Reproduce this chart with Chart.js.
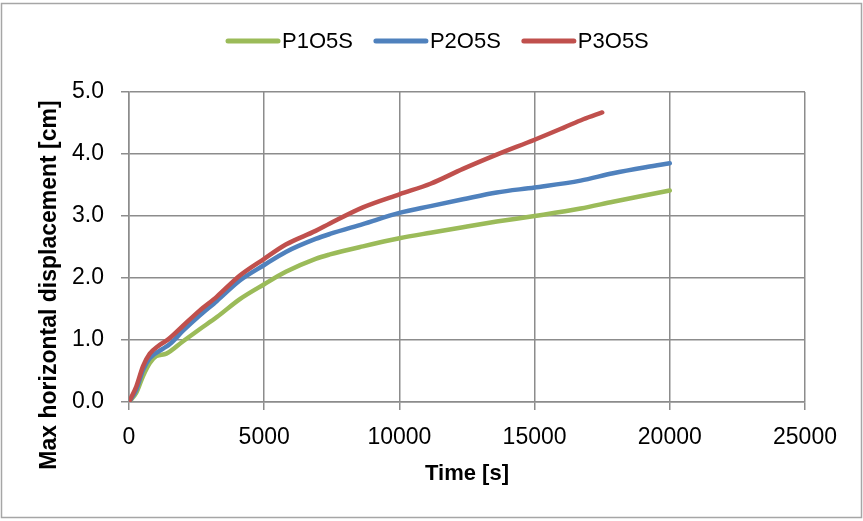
<!DOCTYPE html>
<html>
<head>
<meta charset="utf-8">
<script src="https://cdn.jsdelivr.net/npm/chart.js@4/dist/chart.umd.min.js"></script>
<style>
  html, body { margin: 0; padding: 0; background: #ffffff; }
  #wrap { width: 863px; height: 521px; }
</style>
</head>
<body>
<div id="wrap"><canvas id="c" width="863" height="521"></canvas></div>
<script>
// Time [s] and max horizontal displacement [cm] for each test
const p1Time = [0, 270, 520, 770, 1010, 1380, 2000, 2600, 3250, 4100, 5000, 5800, 6900, 7430, 8650, 10000, 11150, 12350, 13600, 15000, 16700, 17900, 19150, 20000];
const p1Disp = [0, 0.15, 0.42, 0.63, 0.74, 0.78, 0.98, 1.17, 1.37, 1.66, 1.90, 2.10, 2.31, 2.38, 2.51, 2.64, 2.73, 2.82, 2.91, 3.00, 3.12, 3.23, 3.34, 3.41];

const p2Time = [0, 270, 520, 770, 1260, 1500, 2000, 2600, 3250, 4100, 5000, 5800, 6900, 7430, 8650, 10000, 11150, 12350, 13600, 15000, 16700, 17900, 19150, 20000];
const p2Disp = [0, 0.20, 0.52, 0.71, 0.86, 0.93, 1.15, 1.39, 1.63, 1.96, 2.21, 2.42, 2.63, 2.71, 2.87, 3.05, 3.16, 3.27, 3.38, 3.46, 3.57, 3.69, 3.79, 3.85];

const p3Time = [0, 270, 520, 770, 1070, 1450, 2000, 2600, 3250, 4100, 5000, 5800, 6900, 7430, 8650, 10000, 11150, 12350, 13600, 15000, 16100, 16800, 17500];
const p3Disp = [0, 0.25, 0.58, 0.78, 0.90, 1.01, 1.23, 1.47, 1.70, 2.04, 2.31, 2.54, 2.76, 2.88, 3.14, 3.35, 3.52, 3.76, 3.99, 4.23, 4.43, 4.56, 4.67];

const seriesNames = ['P1O5S', 'P2O5S', 'P3O5S'];
const seriesColors = ['#9BBB59', '#4F81BD', '#C0504D'];

const xTicks = [0, 5000, 10000, 15000, 20000, 25000];
const yTicks = [0, 1, 2, 3, 4, 5];

const xTitle = 'Time [s]';
const yTitle = 'Max horizontal displacement [cm]';

const FONT = '"Liberation Sans", Arial, sans-serif';
const GRID = '#8c8c8c';

function pairs(xs, ys) { return xs.map((x, i) => ({ x: x, y: ys[i] })); }

const datasets = [
  { label: seriesNames[0], data: pairs(p1Time, p1Disp), borderColor: seriesColors[0], order: 2 },
  { label: seriesNames[1], data: pairs(p2Time, p2Disp), borderColor: seriesColors[1], order: 1 },
  { label: seriesNames[2], data: pairs(p3Time, p3Disp), borderColor: seriesColors[2], order: 0 }
].map(d => Object.assign(d, {
  backgroundColor: d.borderColor,
  borderWidth: 4.5,
  pointRadius: 0,
  cubicInterpolationMode: 'monotone',
  borderCapStyle: 'round',
  borderJoinStyle: 'round',
  fill: false
}));

// outer frame around the whole chart
const framePlugin = {
  id: 'frame',
  beforeDraw(chart) {
    const ctx = chart.ctx;
    ctx.save();
    ctx.fillStyle = '#ffffff';
    ctx.fillRect(0, 0, chart.width, chart.height);
    ctx.strokeStyle = '#a6a6a6';
    ctx.lineWidth = 1.5;
    ctx.strokeRect(1.5, 3.5, chart.width - 3, chart.height - 7);
    ctx.restore();
  }
};

// horizontal legend: line swatch followed by the series name
const legendPlugin = {
  id: 'lineLegend',
  afterDraw(chart) {
    const ctx = chart.ctx;
    ctx.save();
    ctx.font = '22px ' + FONT;
    ctx.textBaseline = 'middle';
    ctx.lineCap = 'round';
    let x = 228;
    const y = 41;
    chart.data.datasets.forEach(ds => {
      ctx.strokeStyle = ds.borderColor;
      ctx.lineWidth = 5;
      ctx.beginPath();
      ctx.moveTo(x, y);
      ctx.lineTo(x + 50, y);
      ctx.stroke();
      ctx.fillStyle = '#000000';
      ctx.fillText(ds.label, x + 54, y + 1);
      x += 54 + ctx.measureText(ds.label).width + 23;
    });
    ctx.restore();
  }
};

// vertical axis title, set a little below the plot centre
const yTitlePlugin = {
  id: 'yTitle',
  afterDraw(chart) {
    const ctx = chart.ctx;
    const area = chart.chartArea;
    ctx.save();
    ctx.font = 'bold 23px ' + FONT;
    ctx.fillStyle = '#000000';
    ctx.textAlign = 'center';
    ctx.textBaseline = 'middle';
    ctx.translate(50, (area.top + area.bottom) / 2 + 38);
    ctx.rotate(-Math.PI / 2);
    ctx.fillText(yTitle, 0, 0);
    ctx.restore();
  }
};

new Chart(document.getElementById('c'), {
  type: 'line',
  data: { datasets: datasets },
  plugins: [framePlugin, legendPlugin, yTitlePlugin],
  options: {
    responsive: false,
    animation: false,
    devicePixelRatio: 1,
    layout: { padding: { left: 0, top: 92, right: 58, bottom: 0 } },
    plugins: { legend: { display: false }, tooltip: { enabled: false } },
    scales: {
      x: {
        type: 'linear',
        min: 0, max: 25000,
        afterFit(s) { s.height = 119; },
        afterBuildTicks(s) { s.ticks = xTicks.map(v => ({ value: v })); },
        ticks: {
          padding: 14,
          color: '#000000',
          font: { family: FONT, size: 23 },
          maxRotation: 0,
          callback: v => String(v)
        },
        grid: { color: GRID, lineWidth: 1.5, tickLength: 8, tickColor: GRID },
        border: { color: GRID, width: 1.5 },
        title: {
          display: true, text: xTitle, color: '#000000',
          font: { family: FONT, size: 22, weight: 'bold' },
          padding: { top: 0, bottom: 34 }
        }
      },
      y: {
        type: 'linear',
        min: 0, max: 5,
        afterFit(s) { s.width = 129; },
        afterBuildTicks(s) { s.ticks = yTicks.map(v => ({ value: v })); },
        ticks: {
          padding: 17,
          color: '#000000',
          font: { family: FONT, size: 23 },
          callback: v => Number(v).toFixed(1)
        },
        grid: { color: GRID, lineWidth: 1.5, tickLength: 8, tickColor: GRID },
        border: { color: GRID, width: 1.5 },
        title: { display: false }
      }
    }
  }
});
</script>
</body>
</html>
